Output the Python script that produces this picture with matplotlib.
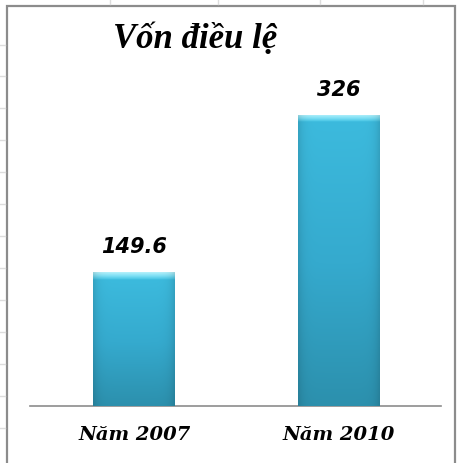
import numpy as np
import matplotlib.pyplot as plt
from matplotlib.colors import LinearSegmentedColormap
from matplotlib.patches import Rectangle

categories = ["Năm 2007", "Năm 2010"]
values = [149.6, 326]
value_labels = ["149.6", "326"]
title = "Vốn điều lệ"

W, H = 459, 464
fig = plt.figure(figsize=(W / 100, H / 100), dpi=100)
fig.patch.set_facecolor("white")

# chart frame (Excel chart area border)
fig.add_artist(Rectangle((7 / W, -0.05), (455 - 7) / W, 1 - 7 / H + 0.05,
                         transform=fig.transFigure, fill=False,
                         edgecolor="#8c8c8c", linewidth=1.6))

# faint spreadsheet grid ticks outside the chart
for yy in [46, 77, 109, 141, 173, 205, 237, 269, 301, 333, 365, 397, 429]:
    fig.add_artist(plt.Line2D([0, 5 / W], [1 - yy / H] * 2,
                              transform=fig.transFigure, color="#dddddd", lw=1))
for xx in [110, 218, 320, 423]:
    fig.add_artist(plt.Line2D([xx / W] * 2, [1, 1 - 5 / H],
                              transform=fig.transFigure, color="#dddddd", lw=1))

ax = fig.add_axes([30 / W, 1 - 407 / H, (441 - 30) / W, (407 - 20) / H])

x = np.arange(len(categories))
bars = ax.bar(x, values, width=0.40, color="#34a9cc", edgecolor="none", zorder=2)

# vertical gradient with a thin light bevel on top, slight darkening at sides
cmap = LinearSegmentedColormap.from_list("bar", ["#2c90ad", "#35aace", "#3cbadd"])
bevel_cmap = LinearSegmentedColormap.from_list("bev", ["#45c4e4", "#7fe0f5", "#b5f1fb"])
side = np.linspace(0, 1, 64)
shade = 1 - 0.12 * (np.abs(side - 0.5) * 2) ** 8
for b in bars:
    x0, w, h = b.get_x(), b.get_width(), b.get_height()
    yy = np.linspace(0, h, 400)
    bevel = 8.0
    col = np.where(yy[:, None] < h - bevel,
                   np.zeros((400, 1)), np.ones((400, 1)))
    base = cmap(np.clip(yy / (h - bevel), 0, 1))[:, :3]
    top = bevel_cmap(np.clip((yy - (h - bevel)) / bevel, 0, 1))[:, :3]
    rgb = base * (1 - col) + top * col
    rgba = rgb[:, None, :] * shade[None, :, None]
    im = ax.imshow(rgba, extent=[x0, x0 + w, 0, h], origin="lower",
                   aspect="auto", zorder=3, interpolation="bilinear")
    im.set_clip_path(b)
ax.set_xlim(-0.51, 1.5)
ax.set_ylim(0, 433)

for xi, v, lab in zip(x, values, value_labels):
    ax.text(xi, v + 18, lab, ha="center", va="bottom", fontsize=15,
            fontweight="bold", fontstyle="italic", family="DejaVu Sans",
            color="black", zorder=4)

ax.set_xticks(x)
ax.set_xticklabels(categories, fontsize=14, fontweight="bold",
                   fontstyle="italic", family="DejaVu Serif")
ax.tick_params(axis="x", length=0, pad=14)
ax.set_yticks([])
for s in ["top", "right", "left"]:
    ax.spines[s].set_visible(False)
ax.spines["bottom"].set_color("#8c8c8c")
ax.spines["bottom"].set_linewidth(1.2)

fig.text(195 / W, 1 - 40 / H, title, ha="center", va="center", fontsize=25,
         fontweight="bold", fontstyle="italic", family="Liberation Serif")

fig.savefig("out.png", dpi=100)
